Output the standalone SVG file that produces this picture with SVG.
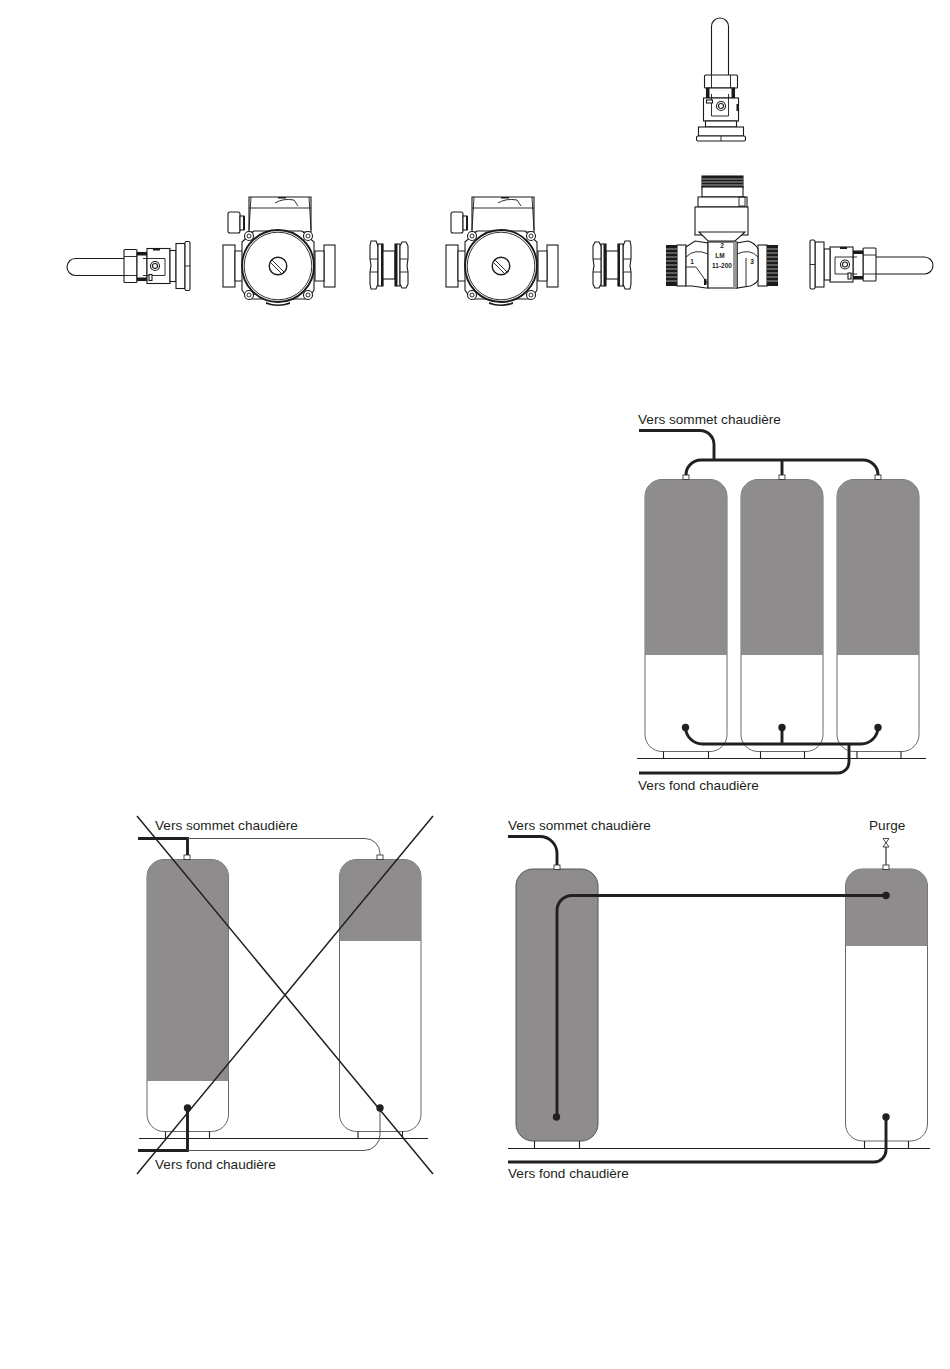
<svg xmlns="http://www.w3.org/2000/svg" xmlns:xlink="http://www.w3.org/1999/xlink" width="950" height="1369" viewBox="0 0 950 1369">
<style>
text{font-family:"Liberation Sans",Arial,sans-serif;font-size:13.6px;fill:#231f20}
.m{fill:#fff;stroke:#1a1a1a;stroke-width:1.1}
.k{fill:#1a1a1a;stroke:none}
.l{fill:none;stroke:#1a1a1a;stroke-width:.9}
.lb{font-size:6.5px;font-weight:bold;text-anchor:middle}
.tw{fill:#fff;stroke:#666;stroke-width:1}
.tg{fill:#8e8c8d;stroke:none}
.ol{fill:none;stroke:#555;stroke-width:1}
.fl{fill:none;stroke:#231f20;stroke-width:1.1}
.p{fill:none;stroke:#231f20;stroke-width:2.9}
.thin{fill:none;stroke:#555;stroke-width:1}
.x{fill:none;stroke:#231f20;stroke-width:1.5}
.d{fill:#231f20}
.n{fill:#fff;stroke:#231f20;stroke-width:.8}
</style>
<defs>
<g id="valve">
<path class="m" d="M124 258H75.500a8.500 8.500 0 0 0 0 17H124"/>
<rect class="m" x="124" y="249" width="13" height="33" rx="1"/>
<path class="l" d="M124 256H137M124 275H137"/>
<rect class="m" x="137" y="252" width="10" height="28"/>
<path class="k" d="M137 252h10v3h-10zM137 277h10v3h-10z"/>
<rect class="m" x="147" y="248" width="23" height="35"/>
<rect class="m" x="170" y="250" width="6" height="31"/>
<rect class="m" x="176" y="243" width="9" height="45"/>
<rect class="m" x="185" y="241" width="5" height="49" rx="1.500"/>
<path class="l" d="M185 265.500H190"/>
<path class="l" d="M143 258H165V275H143"/>
<rect class="k" x="153" y="248" width="7" height="2"/>
<rect class="m" x="149" y="274" width="3" height="6"/>
<circle class="m" cx="155" cy="265.500" r="4.500"/>
<circle class="m" cx="155" cy="265.500" r="2.500"/>
</g>
<g id="pump">
<rect class="m" x="-55" y="-21" width="12" height="42"/>
<rect class="m" x="46" y="-21" width="11" height="42"/>
<path class="m" d="M-43-15H-34V15H-43zM37-15H46V15H37z"/>
<path class="m" d="M-29-69H33V-34H-29z"/>
<path class="l" d="M-29-58H33M-27-69L-29-36M31-69L33-36"/>
<path class="l" d="M-3-63Q5-68 16-66L20-60"/>
<rect class="k" x="0" y="-69" width="8" height="1.500"/>
<rect class="m" x="-50" y="-54" width="12" height="21" rx="2"/>
<rect class="m" x="-38" y="-50" width="4" height="14"/>
<rect class="k" x="-35" y="-50" width="2" height="14"/>
<path class="m" d="M-36-24L-24-35H24L36-24V24L30 33H-30L-36 24z"/>
<path class="k" d="M-12 36Q0 41 12 36L12 38Q0 42-12 38z"/>
<circle class="m" cx="-29" cy="-30" r="4.500"/>
<circle class="m" cx="30" cy="-30" r="4.500"/>
<circle class="m" cx="-29" cy="29" r="4.500"/>
<circle class="m" cx="30" cy="29" r="4.500"/>
<circle cx="-29" cy="-30" r="2" class="l"/>
<circle cx="30" cy="-30" r="2" class="l"/>
<circle cx="-29" cy="29" r="2" class="l"/>
<circle cx="30" cy="29" r="2" class="l"/>
<circle cx="0" cy="0" r="36" fill="#fff" stroke="#1a1a1a" stroke-width="1.900"/>
<circle cx="0" cy="0" r="33.800" class="l"/>
<circle cx="0" cy="0" r="8.800" fill="#fff" stroke="#1a1a1a" stroke-width="1.400"/>
<path class="l" d="M-6-6L6 6M-7.500-3.500L3.500 7.500"/>
</g>
<g id="fitting">
<path class="m" d="M371 241H376L378 246V284L376 289H371L370 284V272L371 265.500L370 259V246z"/>
<path class="l" d="M370 259H378M370 272H378"/>
<rect class="m" x="378" y="244" width="5" height="42"/>
<rect class="k" x="381" y="244" width="2.200" height="42"/>
<rect class="m" x="383" y="251" width="12" height="28"/>
<rect class="m" x="395" y="244" width="5" height="42"/>
<rect class="k" x="395" y="244" width="2.500" height="42"/>
<path class="m" d="M400 246L402 242H406L408 246V259L407 265.500L408 272V284L406 288H402L400 284z"/>
<path class="l" d="M400 259H408M400 272H408"/>
</g>
<g id="thread">
<rect class="k" x="0" y="0" width="11" height="41"/>
<path d="M0 4H11M0 8H11M0 12H11M0 16H11M0 20H11M0 24H11M0 28H11M0 32H11M0 36H11" stroke="#fff" stroke-width=".6"/>
</g>
</defs>

<g id="valve-left"><use href="#valve" transform="translate(0,.5)"/></g>
<g id="pump-1"><use href="#pump" transform="translate(278,266)"/></g>
<g id="fitting-1"><use href="#fitting"/></g>
<g id="pump-2"><use href="#pump" transform="translate(501,266)"/></g>
<g id="fitting-2"><use href="#fitting" transform="translate(1001,0) scale(-1,1)"/></g>
<g id="valve-top"><use href="#valve" transform="translate(986.500,-49) rotate(90)"/></g>
<g id="valve-right"><use href="#valve" transform="translate(1000,-1) scale(-1,1)"/></g>

<g id="mixing-valve">
<rect class="m" x="702" y="176" width="41" height="12"/>
<rect class="k" x="702" y="176" width="41" height="11"/>
<path d="M702 179H743M702 182H743M702 185H743" stroke="#fff" stroke-width=".6"/>
<rect class="m" x="702" y="187" width="41" height="10"/>
<rect class="m" x="698" y="197" width="49" height="10"/>
<rect class="m" x="695" y="207" width="53" height="28"/>
<rect class="l" x="739" y="197" width="6" height="9"/>
<rect class="m" x="677" y="245" width="9" height="41"/>
<rect class="m" x="758" y="245" width="9" height="41"/>
<use href="#thread" x="666" y="245"/>
<use href="#thread" x="767" y="245"/>
<path class="m" d="M686 247L695 241L708 243V288H706L692 286H686zM758 249Q755 243 748 241L737 243V288L750 286Q756 284 758 280z"/>
<path class="l" d="M686 257Q695 248 708 254M737 254Q750 248 758 257M686 267H696L708 284M746 258V286"/>
<rect class="m" x="708" y="242" width="29" height="46"/>
<rect fill="#999" x="733" y="242" width="3.500" height="46"/>
<path class="m" d="M699 232H745L735 241H708z"/>
<rect class="k" x="704" y="279" width="2.500" height="6"/>
<text class="lb" x="722" y="247.500">2</text>
<text class="lb" x="720" y="258">LM</text>
<text class="lb" x="722" y="268">11-200</text>
<text class="lb" x="692" y="264">1</text>
<text class="lb" x="752" y="264">3</text>
</g>

<g id="tank-a1"><rect class="tw" x="645" y="479.500" width="82" height="272" rx="17"/><path class="tg" d="M645 655V496.500a17 17 0 0 1 17-17h48a17 17 0 0 1 17 17V655z"/><rect class="n" x="683" y="475" width="6" height="4.500"/></g>
<g id="tank-a2"><rect class="tw" x="741" y="479.500" width="82" height="272" rx="17"/><path class="tg" d="M741 655V496.500a17 17 0 0 1 17-17h48a17 17 0 0 1 17 17V655z"/><rect class="n" x="779" y="475" width="6" height="4.500"/></g>
<g id="tank-a3"><rect class="tw" x="837" y="479.500" width="82" height="272" rx="17"/><path class="tg" d="M837 655V496.500a17 17 0 0 1 17-17h48a17 17 0 0 1 17 17V655z"/><rect class="n" x="875" y="475" width="6" height="4.500"/></g>
<g id="base-a"><path class="fl" d="M637 758.500H926M663.500 751.500V758.500M708.500 751.500V758.500M760.500 751.500V758.500M804.500 751.500V758.500M857 751.500V758.500M901 751.500V758.500"/></g>

<g id="tank-b1"><rect class="tw" x="147" y="859.500" width="81.500" height="272" rx="17"/><path class="tg" d="M147 1081V876.500a17 17 0 0 1 17-17h47.500a17 17 0 0 1 17 17V1081z"/><rect class="n" x="184" y="855" width="6" height="4.500"/></g>
<g id="tank-b2"><rect class="tw" x="339.500" y="859.500" width="81.500" height="272" rx="17"/><path class="tg" d="M339.500 941V876.500a17 17 0 0 1 17-17h47.500a17 17 0 0 1 17 17V941z"/><rect class="n" x="377" y="855" width="6" height="4.500"/></g>
<g id="base-b"><path class="fl" d="M139 1138.500H428M165.500 1131.500V1138.500M209.500 1131.500V1138.500M358 1131.500V1138.500M402.500 1131.500V1138.500"/></g>

<g id="tank-c1"><rect class="tg" x="516" y="869" width="82" height="272" rx="17"/><rect class="ol" x="516" y="869" width="82" height="272" rx="17"/><rect class="n" x="554" y="865" width="6" height="4.500"/></g>
<g id="tank-c2"><rect class="tw" x="845.500" y="869" width="82" height="272" rx="17"/><path class="tg" d="M845.500 946V886a17 17 0 0 1 17-17h48a17 17 0 0 1 17 17V946z"/><rect class="n" x="883" y="865" width="6" height="4.500"/></g>
<g id="base-c"><path class="fl" d="M508 1148.500H930M534.500 1141V1148.500M579.500 1141V1148.500M864.500 1141V1148.500M908.500 1141V1148.500"/></g>
<g id="purge"><path class="fl" d="M886 865V847"/><path class="n" d="M883 838.500H889L883 847H889z"/></g>

<g id="connectors">
<path class="p" d="M639 430.500H700a14 14 0 0 1 14 14V460"/>
<path class="p" d="M686 475a15 15 0 0 1 15-15H863a15 15 0 0 1 15 15M782 460V475"/>
<path class="p" d="M685.500 727a17 17 0 0 0 17 17H861a17 17 0 0 0 17-17M782 727V744"/>
<path class="p" d="M849 744V762a11 11 0 0 1-11 11H639"/>
<circle class="d" cx="685.500" cy="727.500" r="3.700"/><circle class="d" cx="782" cy="727.500" r="3.700"/><circle class="d" cx="878" cy="727.500" r="3.700"/>

<path class="p" d="M138 838.500H187.500V855"/>
<path class="thin" d="M187.500 838.500H365a15 15 0 0 1 15 15V855"/>
<path class="p" d="M187.500 1108V1150.500H138"/>
<path class="thin" d="M187.500 1150.500H364a16 16 0 0 0 16-16V1108"/>
<circle class="d" cx="187.500" cy="1108" r="3.700"/><circle class="d" cx="380" cy="1108" r="3.700"/>
<path class="x" d="M137 816L433 1174M433 816L137 1174"/>

<path class="p" d="M508 836.500H540a17 17 0 0 1 17 17V865"/>
<path class="p" d="M886 895.500H572a15 15 0 0 0-15 15V1117"/>
<path class="p" d="M886 1117V1150a12 12 0 0 1-12 12H508"/>
<circle class="d" cx="886" cy="895.500" r="3.700"/><circle class="d" cx="556.500" cy="1117" r="3.700"/><circle class="d" cx="886" cy="1117" r="3.700"/>
</g>

<g id="labels">
<text x="638" y="424">Vers sommet chaudière</text>
<text x="638" y="790">Vers fond chaudière</text>
<text x="155" y="830">Vers sommet chaudière</text>
<text x="155" y="1169">Vers fond chaudière</text>
<text x="508" y="830">Vers sommet chaudière</text>
<text x="508" y="1178">Vers fond chaudière</text>
<text x="869" y="830">Purge</text>
</g>
</svg>
